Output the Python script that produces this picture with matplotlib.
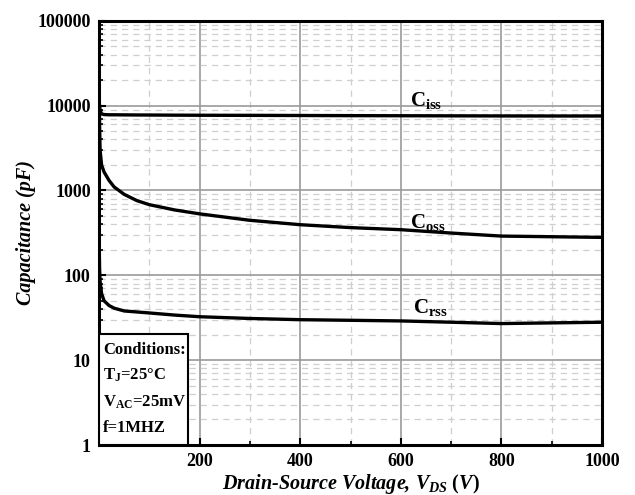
import matplotlib
matplotlib.use("Agg")
import matplotlib.pyplot as plt
from matplotlib.patches import Rectangle
import numpy as np

vds = [0.3, 1, 2, 5, 10, 20, 30, 50, 75, 100, 150, 200, 300, 400, 500, 600, 700, 800, 900, 1000]
ciss = [11000, 10000, 8800, 8000, 7850, 7800, 7800, 7780, 7760, 7750, 7720, 7700, 7680, 7650, 7620, 7600, 7580, 7560, 7550, 7550]
coss = [15000, 6000, 3000, 2000, 1650, 1310, 1100, 900, 760, 680, 590, 530, 445, 395, 365, 345, 315, 290, 285, 280]
crss = [220, 120, 85, 61, 50, 44, 41, 38, 37, 36, 34, 32.5, 31, 30, 29.5, 29, 28, 27, 27.5, 28]

xticks = [200, 400, 600, 800, 1000]
yticks = [1, 10, 100, 1000, 10000, 100000]
ylabels = ["1", "10", "100", "1000", "10000", "100000"]
conditions = ["Conditions:", r"T$_\mathbf{J}$=25°C", r"V$_\mathbf{AC}$=25mV", "f=1MHZ"]

plt.rcParams['font.family'] = ['Liberation Serif', 'DejaVu Serif']
plt.rcParams['mathtext.fontset'] = 'custom'
plt.rcParams['mathtext.rm'] = 'Liberation Serif:bold'
plt.rcParams['mathtext.it'] = 'Liberation Serif:bold:italic'
plt.rcParams['mathtext.bf'] = 'Liberation Serif:bold'

fig = plt.figure(figsize=(6.35, 4.95), dpi=100)
ax = fig.add_axes([0.156, 0.101, 0.792, 0.857])
ax.set_yscale('log')
ax.set_xlim(0, 1000)
ax.set_ylim(1, 100000)

ax.set_xticks(xticks)
ax.set_xticklabels([str(t) for t in xticks], fontweight='bold', fontsize=13)
ax.set_xticks(np.arange(100, 1000, 100), minor=True)
ax.set_yticks(yticks)
ax.set_yticklabels(ylabels, fontweight='bold', fontsize=13)
ax.tick_params(which='both', direction='in', top=False, right=False)
ax.tick_params(which='major', length=5, width=1.5)
ax.tick_params(which='minor', length=3, width=1.2)
ax.tick_params(axis='x', which='major', pad=6)
ax.tick_params(axis='y', which='major', pad=6)

ax.grid(which='major', color='#9a9a9a', linestyle='-', linewidth=1.2)
ax.grid(which='minor', color='#cfcfcf', linestyle=(0, (5, 4)), linewidth=0.9)
ax.set_axisbelow(True)

for s in ax.spines.values():
    s.set_linewidth(2.2)

ax.plot(vds, ciss, color='black', lw=2.4)
ax.plot(vds, coss, color='black', lw=2.4)
ax.plot(vds, crss, color='black', lw=2.4)

ax.text(618, 10000, r"C$_\mathbf{iss}$", fontsize=15, ha='left', va='baseline', fontweight='bold')
ax.text(618, 364, r"C$_\mathbf{oss}$", fontsize=15, ha='left', va='baseline', fontweight='bold')
ax.text(624, 36.4, r"C$_\mathbf{rss}$", fontsize=15, ha='left', va='baseline', fontweight='bold')

ax.add_patch(Rectangle((0, 0), 0.177, 0.262, transform=ax.transAxes, facecolor='white',
                       edgecolor='black', lw=1.5, zorder=3))
ys = [0.224, 0.165, 0.101, 0.040]
for t, y in zip(conditions, ys):
    ax.text(0.008, y, t, transform=ax.transAxes, fontsize=12, fontweight='bold',
            va='center', ha='left', zorder=4)

ax.set_ylabel("Capacitance (pF)", fontsize=14.5, fontweight='bold', fontstyle='italic', labelpad=1)
ax.set_xlabel(r"Drain-Source Voltage, $\mathit{V_{DS}}$ $\mathit{(V)}$", fontsize=14.5, fontweight='bold',
              fontstyle='italic', labelpad=1)

fig.savefig("out.png", dpi=100)
